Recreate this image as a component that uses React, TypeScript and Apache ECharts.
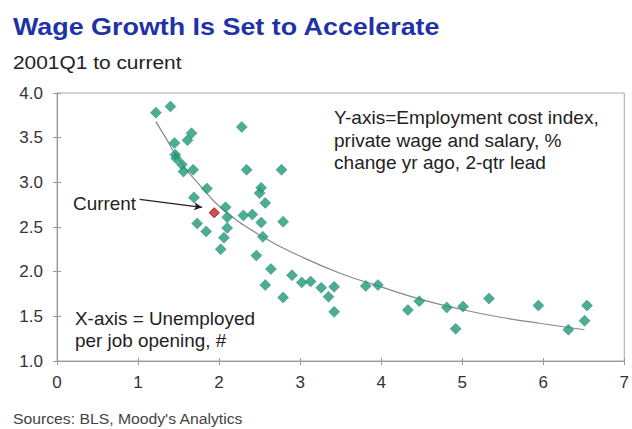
import React, { useEffect, useRef } from "react";
import * as echarts from "echarts";

const pointsX = [1.22, 1.40, 2.28, 1.66, 1.61, 1.45, 1.46, 1.47, 1.54, 1.56, 1.68, 2.34, 2.77, 1.85, 2.52, 2.50, 1.69, 2.57, 2.08, 2.10, 2.30, 2.41, 2.52, 2.79, 1.73, 1.84, 2.10, 2.06, 2.54, 2.02, 2.46, 2.64, 2.90, 2.57, 2.79, 3.02, 3.13, 3.26, 3.42, 3.35, 3.42, 3.81, 3.96, 4.33, 4.47, 4.81, 5.01, 4.92, 5.33, 5.94, 6.31, 6.51, 6.54];
const pointsY = [3.78, 3.85, 3.62, 3.55, 3.47, 3.44, 3.31, 3.27, 3.2, 3.12, 3.14, 3.14, 3.14, 2.93, 2.94, 2.88, 2.83, 2.77, 2.72, 2.61, 2.63, 2.64, 2.55, 2.56, 2.54, 2.45, 2.49, 2.38, 2.39, 2.25, 2.18, 2.03, 1.96, 1.85, 1.71, 1.88, 1.89, 1.82, 1.83, 1.72, 1.55, 1.84, 1.85, 1.57, 1.67, 1.6, 1.61, 1.36, 1.7, 1.62, 1.35, 1.45, 1.62];
const currentX = [1.94];
const currentY = [2.66];
const trendX = [1.22, 1.34, 1.53, 1.78, 2.03, 2.52, 3.01, 3.5, 4.0, 4.49, 4.98, 5.47, 5.97, 6.51];
const trendY = [3.68, 3.5, 3.22, 2.95, 2.71, 2.4, 2.17, 1.98, 1.83, 1.69, 1.58, 1.49, 1.42, 1.35];
const xTicks = [0, 1, 2, 3, 4, 5, 6, 7];
const yTicks = [1.0, 1.5, 2.0, 2.5, 3.0, 3.5, 4.0];
const titleText = "Wage Growth Is Set to Accelerate";
const subtitleText = "2001Q1 to current";
const sourceText = "Sources: BLS, Moody's Analytics";
const yNoteLines = ["Y-axis=Employment cost index,", "private wage and salary, %", "change yr ago, 2-qtr lead"];
const xNoteLines = ["X-axis = Unemployed", "per job opening, #"];
const currentLabel = "Current";

const FONT = "'Liberation Sans', Arial, sans-serif";

function txt(text: string, x: number, y: number, size: number, color: string, scaleX: number, bold = false) {
  return {
    type: "text",
    x,
    y,
    scaleX,
    style: {
      text,
      fill: color,
      font: `${bold ? "bold " : ""}${size}px ${FONT}`,
      verticalAlign: "middle",
      align: "left",
    },
  };
}

export default function App() {
  const ref = useRef<HTMLDivElement>(null);
  useEffect(() => {
    if (!ref.current) return;
    const chart = echarts.init(ref.current, undefined, { renderer: "svg" });
    const xMin = xTicks[0];
    const xMax = xTicks[xTicks.length - 1];
    const yMin = yTicks[0];
    const yMax = yTicks[yTicks.length - 1];
    chart.setOption({
      animation: false,
      backgroundColor: "#fff",
      textStyle: { fontFamily: FONT },
      grid: {
        left: 57,
        right: 2,
        top: 93,
        bottom: 68,
        show: true,
        borderColor: "#aaa",
        borderWidth: 1,
      },
      xAxis: [
        {
          type: "value",
          min: xMin,
          max: xMax,
          interval: 1,
          position: "bottom",
          axisLine: { lineStyle: { color: "#999" } },
          axisTick: { show: true, length: 4, lineStyle: { color: "#999" } },
          splitLine: { show: false },
          axisLabel: { color: "#333", fontSize: 17, margin: 13, fontFamily: FONT },
        },
        {
          type: "value",
          min: xMin,
          max: xMax,
          interval: 1,
          position: "bottom",
          offset: 0,
          axisLine: { show: false },
          axisTick: { show: true, inside: true, length: 3, lineStyle: { color: "#999" } },
          splitLine: { show: false },
          axisLabel: { show: false },
        },
      ],
      yAxis: [
        {
          type: "value",
          min: yMin,
          max: yMax,
          interval: 0.5,
          position: "left",
          axisLine: { show: true, lineStyle: { color: "#999" } },
          axisTick: { show: true, length: 4, lineStyle: { color: "#999" } },
          splitLine: { show: false },
          axisLabel: {
            color: "#333",
            fontSize: 17,
            margin: 14,
            fontFamily: FONT,
            formatter: (v: number) => v.toFixed(1),
          },
        },
        {
          type: "value",
          min: yMin,
          max: yMax,
          interval: 0.5,
          position: "left",
          offset: 0,
          axisLine: { show: false },
          axisTick: { show: true, inside: true, length: 4, lineStyle: { color: "#999" } },
          splitLine: { show: false },
          axisLabel: { show: false },
        },
      ],
      series: [
        {
          type: "line",
          data: trendX.map((x, i) => [x, trendY[i]]),
          smooth: true,
          showSymbol: false,
          lineStyle: { color: "#888", width: 1.2 },
          z: 1,
        },
        {
          type: "scatter",
          data: pointsX.map((x, i) => [x, pointsY[i]]),
          symbol: "diamond",
          symbolSize: 11,
          itemStyle: { color: "#1f987a", borderColor: "#187a62", borderWidth: 0.5 },
          z: 2,
        },
        {
          type: "scatter",
          data: currentX.map((x, i) => [x, currentY[i]]),
          symbol: "diamond",
          symbolSize: 10,
          itemStyle: { color: "#d01f1f", borderColor: "#6a1010", borderWidth: 1 },
          z: 3,
          markLine: {
            silent: true,
            symbol: ["none", "arrow"],
            symbolSize: [6, 8],
            label: { show: false },
            lineStyle: { color: "#222", width: 1.2, type: "solid" },
            data: [[{ coord: [1.02, 2.81] }, { coord: [1.79, 2.72] }]],
          },
        },
      ],
      graphic: [
        txt(titleText, 13, 27, 24, "#1f32a6", 1.12, true),
        txt(subtitleText, 13, 62, 19, "#222", 1.1),
        txt(sourceText, 13, 419, 15, "#444", 1.05),
        ...yNoteLines.map((t, i) => txt(t, 334, 118 + i * 22.5, 18, "#222", 1.06)),
        ...xNoteLines.map((t, i) => txt(t, 75, 319 + i * 22, 18, "#222", 1.05)),
        txt(currentLabel, 73, 204, 18, "#222", 1.05),
      ],
    });
    return () => chart.dispose();
  }, []);
  return <div ref={ref} style={{ width: 632, height: 429, position: "absolute", left: 0, top: 0 }} />;
}
